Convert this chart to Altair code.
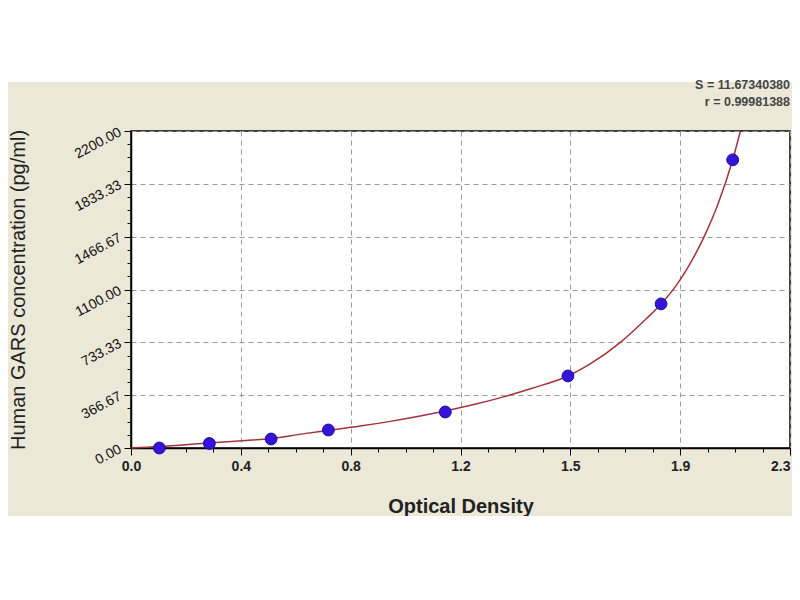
import json
import altair as alt
import pandas as pd

# ---- data ----
od_points = [0.099, 0.2735, 0.489, 0.689, 1.097, 1.525, 1.850, 2.100]
conc_points = [0.0, 31.25, 62.5, 125.0, 250.0, 500.0, 1000.0, 2000.0]

curve_od = [0.0, 0.10, 0.20, 0.27, 0.40, 0.49, 0.60, 0.69, 0.80, 0.90, 1.00,
            1.10, 1.20, 1.30, 1.40, 1.525, 1.60, 1.708, 1.80, 1.85, 1.90,
            1.95, 2.00, 2.05, 2.10, 2.127]
curve_conc = [0, 10, 24, 35, 52, 66, 98, 122, 152, 183, 218,
              258, 303, 355, 415, 500, 580, 733, 900, 1000, 1120,
              1275, 1465, 1700, 2000, 2200]

x_tick_labels = ["0.0", "0.4", "0.8", "1.2", "1.5", "1.9", "2.3"]
y_tick_labels = ["0.00", "366.67", "733.33", "1100.00", "1466.67", "1833.33", "2200.00"]
fit_lines = ["S = 11.67340380", "r = 0.99981388"]

X_MAX, Y_MAX = 2.3, 2200.0
x_all = [i * X_MAX / 24 for i in range(25)]
x_major = x_all[::4]
y_all = [i * Y_MAX / 24 for i in range(25)]
y_major = y_all[::4]

pts = pd.DataFrame({"od": od_points, "conc": conc_points})
crv = pd.DataFrame({"od": curve_od, "conc": curve_conc})

FONT = "Liberation Sans"
BEIGE = "#ebe8d8"
W, H = 659, 317
PAD = {"left": 123, "top": 123, "right": 2, "bottom": 144}

xm = json.dumps(x_major)
ym = json.dumps(y_major)
x_test = f"indexof({xm}, datum.value) >= 0"
y_test = f"indexof({ym}, datum.value) >= 0"

x_axis = alt.Axis(
    values=x_all,
    labelExpr=f"indexof({xm}, datum.value) >= 0 ? {json.dumps(x_tick_labels)}[indexof({xm}, datum.value)] : ''",
    tickSize={"condition": {"test": x_test, "value": 7}, "value": 4},
    gridOpacity={"condition": {"test": x_test, "value": 1}, "value": 0},
    labelAlign={"condition": {"test": f"datum.value >= {X_MAX} - 0.001", "value": "right"},
                "value": "center"},
    gridDash=[5, 4], gridColor="#9a9a9a", gridWidth=1,
    domainColor="black", domainWidth=1.5, tickColor="black", tickWidth=1,
    labelFont=FONT, labelFontSize=14, labelFontWeight="bold", labelColor="#222",
    labelPadding=4, labelFlush=False, labelOverlap=False,
    title="Optical Density", titleFont=FONT, titleFontSize=20,
    titleFontWeight="bold", titleColor="#222", titlePadding=23,
)
y_axis = alt.Axis(
    values=y_all,
    labelExpr=f"indexof({ym}, datum.value) >= 0 ? {json.dumps(y_tick_labels)}[indexof({ym}, datum.value)] : ''",
    tickSize={"condition": {"test": y_test, "value": 7}, "value": 4},
    gridOpacity={"condition": {"test": y_test, "value": 1}, "value": 0},
    gridDash=[5, 4], gridColor="#9a9a9a", gridWidth=1,
    domainColor="black", domainWidth=1.5, tickColor="black", tickWidth=1,
    labelFont=FONT, labelFontSize=14, labelColor="#111",
    labelAngle=332, labelAlign="right", labelBaseline="middle",
    labelPadding=4, labelFlush=False, labelOverlap=False,
    title="Human GARS concentration (pg/ml)", titleFont=FONT, titleFontSize=20,
    titleFontWeight="normal", titleColor="#222", titlePadding=44,
)

X = alt.X("od:Q", scale=alt.Scale(domain=[0, X_MAX], nice=False, zero=False), axis=x_axis)
Y = alt.Y("conc:Q", scale=alt.Scale(domain=[0, Y_MAX], nice=False), axis=y_axis)

one = pd.DataFrame({"k": [0]})
top_strip = alt.Chart(one).mark_rect(color="white").encode(
    x=alt.value(-PAD["left"]), x2=alt.value(W + PAD["right"] + 10),
    y=alt.value(-PAD["top"]), y2=alt.value(-49))
bottom_strip = alt.Chart(one).mark_rect(color="white").encode(
    x=alt.value(-PAD["left"]), x2=alt.value(W + PAD["right"] + 10),
    y=alt.value(385), y2=alt.value(H + PAD["bottom"] + 10))

fit_s = alt.Chart(one).mark_text(
    align="right", baseline="alphabetic", font=FONT, fontSize=12.5,
    fontWeight="bold", color="#444").encode(
    x=alt.value(W), y=alt.value(-42), text=alt.value(fit_lines[0]))
fit_r = alt.Chart(one).mark_text(
    align="right", baseline="alphabetic", font=FONT, fontSize=12.5,
    fontWeight="bold", color="#444").encode(
    x=alt.value(W), y=alt.value(-25), text=alt.value(fit_lines[1]))

curve = alt.Chart(crv).mark_line(color="#a3333a", strokeWidth=1.5,
                                 interpolate="monotone").encode(x=X, y=Y)
dots = alt.Chart(pts).mark_circle(size=140, opacity=1, color="#3414d8",
                                  stroke="#1d0a9c", strokeWidth=1).encode(x=X, y=Y)

chart = alt.layer(curve, dots, top_strip, bottom_strip, fit_s, fit_r).properties(
    width=W, height=H, padding=PAD, autosize="none",
    background=BEIGE,
).configure_view(fill="white", stroke="black", strokeWidth=1.5)

chart.save("out.html", embed_options={"renderer": "svg", "actions": False})
